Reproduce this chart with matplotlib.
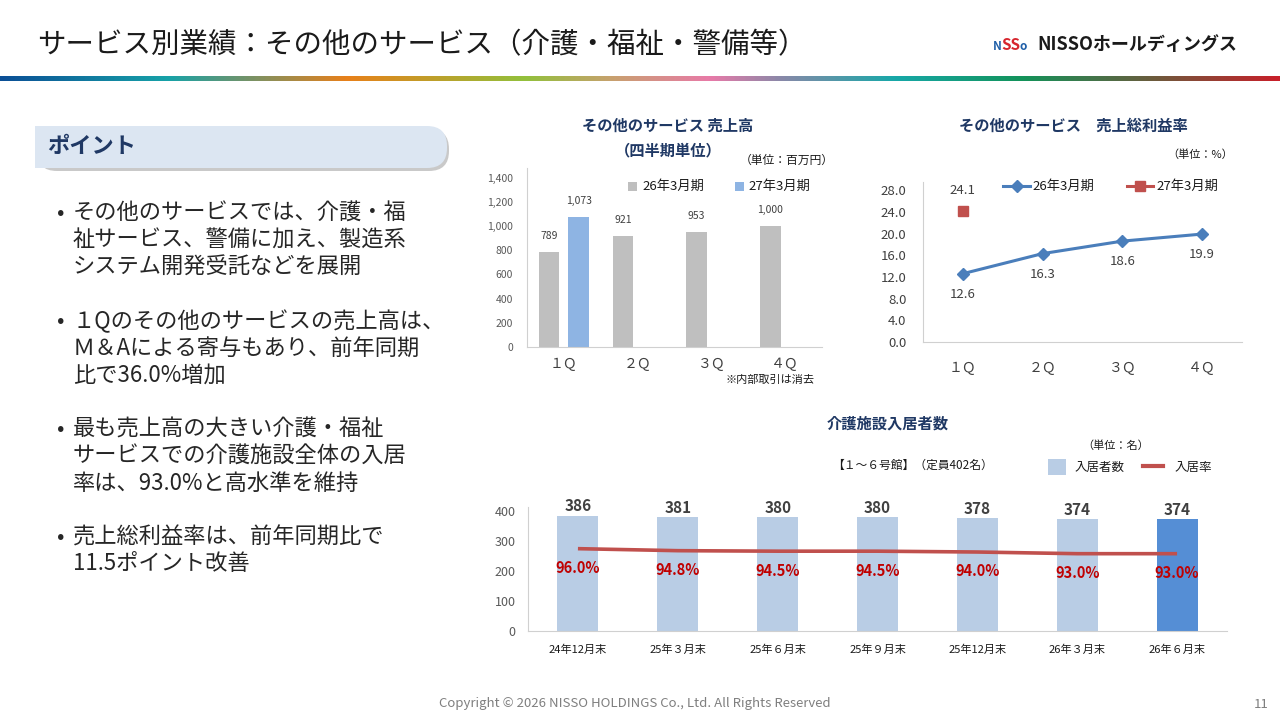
import matplotlib
matplotlib.use("Agg")
import matplotlib.pyplot as plt
import numpy as np
from matplotlib.patches import FancyBboxPatch, Rectangle
from matplotlib.colors import LinearSegmentedColormap
from matplotlib.ticker import FuncFormatter

plt.rcParams['font.family'] = ['Noto Sans CJK JP', 'DejaVu Sans']

W, H = 1280, 720

# --- data ---
quarters = ['１Ｑ', '２Ｑ', '３Ｑ', '４Ｑ']
sales_fy26 = [789, 921, 953, 1000]
sales_fy27 = [1073]
margin_fy26 = [12.6, 16.3, 18.6, 19.9]
margin_fy27 = [24.1]
periods = ['24年12月末', '25年３月末', '25年６月末', '25年９月末',
           '25年12月末', '26年３月末', '26年６月末']
residents = [386, 381, 380, 380, 378, 374, 374]
occupancy = [96.0, 94.8, 94.5, 94.5, 94.0, 93.0, 93.0]

bullets = [
    ['その他のサービスでは、介護・福', '祉サービス、警備に加え、製造系', 'システム開発受託などを展開'],
    ['１Qのその他のサービスの売上高は、', 'Ｍ＆Aによる寄与もあり、前年同期', '比で36.0%増加'],
    ['最も売上高の大きい介護・福祉', 'サービスでの介護施設全体の入居', '率は、93.0%と高水準を維持'],
    ['売上総利益率は、前年同期比で', '11.5ポイント改善'],
]

NAVY = '#1f3864'
GREY_TXT = '#404040'


def box(l, t, r, b):
    return [l / W, 1 - b / H, (r - l) / W, (b - t) / H]


def style_axes(ax):
    for s in ['top', 'right']:
        ax.spines[s].set_visible(False)
    for s in ['left', 'bottom']:
        ax.spines[s].set_color('#d0d0d0')
    ax.tick_params(length=0)
    ax.set_facecolor('none')


fig = plt.figure(figsize=(12.8, 7.2), dpi=100)

# background layer in pixel coordinates
bg = fig.add_axes([0, 0, 1, 1])
bg.set_xlim(0, W)
bg.set_ylim(H, 0)
bg.axis('off')

bg.text(37, 45, 'サービス別業績：その他のサービス（介護・福祉・警備等）', fontsize=20.5,
        color='#1a1a1a', va='center', ha='left')

# logo
bg.text(993, 47, 'N', fontsize=8.5, color='#1f5fa8', fontweight='bold', va='center')
bg.text(1001, 45, 'SS', fontsize=11, color='#d7262e', fontweight='bold', va='center')
bg.text(1020, 47, 'o', fontsize=8.5, color='#1f5fa8', fontweight='bold', va='center')
bg.text(1037, 45, 'NISSOホールディングス', fontsize=13, color='#1a1a1a', fontweight='bold', va='center')

# gradient rule
stops = [(0.0, '#0b4f96'), (0.13, '#17a2a8'), (0.27, '#e8801a'), (0.41, '#92c03c'),
         (0.48, '#c9a070'), (0.555, '#e87aa8'), (0.61, '#8a88a8'), (0.70, '#17a8a8'),
         (0.80, '#13935a'), (0.905, '#6e5a3c'), (1.0, '#c8202a')]
cmap = LinearSegmentedColormap.from_list('rule', stops)
bg.imshow(np.linspace(0, 1, 512)[None, :], extent=(0, W, 81, 76), aspect='auto', cmap=cmap)
bg.set_xlim(0, W)
bg.set_ylim(H, 0)

# "ポイント" header box
shadow = FancyBboxPatch((37, 129), 412, 42, boxstyle='round,pad=0,rounding_size=20',
                        fc='#a6a6a6', ec='none', alpha=0.6)
bg.add_patch(shadow)
head = FancyBboxPatch((35, 126), 412, 42, boxstyle='round,pad=0,rounding_size=20',
                      fc='#dce6f2', ec='none')
bg.add_patch(head)
bg.add_patch(Rectangle((35, 126), 40, 42, fc='#dce6f2', ec='none'))
bg.text(47, 146, 'ポイント', fontsize=16, fontweight='bold', color=NAVY, va='center')

# bullet text
y = 213
for group in bullets:
    bg.text(57, y, '•', fontsize=16, color='#262626', va='center')
    for line in group:
        bg.text(73, y, line, fontsize=16, color='#262626', va='center')
        y += 27
    y += 27 if len(group) == 3 else 0

# footer
bg.text(635, 703, 'Copyright © 2026 NISSO HOLDINGS Co., Ltd. All Rights Reserved',
        fontsize=9.5, color='#7f7f7f', ha='center', va='center')
bg.text(1261, 704, '11', fontsize=9.5, color='#7f7f7f', ha='center', va='center')

# --- chart 1: sales ---
ax1 = fig.add_axes(box(527, 168, 822, 347))
style_axes(ax1)
x = np.arange(len(quarters))
b26 = ax1.bar(x - 0.2, sales_fy26, 0.28, color='#bfbfbf')
b27 = ax1.bar(x[:len(sales_fy27)] + 0.2, sales_fy27, 0.28, color='#8eb4e3')
for bars in (b26, b27):
    for r in bars:
        ax1.annotate(f'{int(r.get_height()):,}', (r.get_x() + r.get_width() / 2, r.get_height()),
                     xytext=(0, 11.5), textcoords='offset points', ha='center', va='center',
                     fontsize=7.5, color=GREY_TXT)
ax1.set_xlim(-0.5, 3.5)
ax1.set_ylim(0, 1480)
ax1.set_yticks(np.arange(0, 1401, 200))
ax1.yaxis.set_major_formatter(FuncFormatter(lambda v, p: f'{int(v):,}'))
ax1.tick_params(axis='y', labelsize=7.5, labelcolor='#595959', pad=10)
ax1.set_xticks(x)
ax1.set_xticklabels(quarters, fontsize=10, color=GREY_TXT)
ax1.tick_params(axis='x', pad=7)

bg.text(668, 126, 'その他のサービス 売上高', fontsize=11, fontweight='bold', color=NAVY, ha='center', va='center')
bg.text(668, 150, '（四半期単位）', fontsize=11, fontweight='bold', color=NAVY, ha='center', va='center')
bg.text(787, 160, '（単位：百万円）', fontsize=8.5, color='#1a1a1a', ha='center', va='center')
bg.text(770, 380, '※内部取引は消去', fontsize=8, color='#1a1a1a', ha='center', va='center')
bg.add_patch(Rectangle((628, 182), 9, 9, fc='#bfbfbf', ec='none'))
bg.text(642, 186.5, '26年3月期', fontsize=9.5, color='#1a1a1a', va='center')
bg.add_patch(Rectangle((735, 182), 9, 9, fc='#8eb4e3', ec='none'))
bg.text(748, 186.5, '27年3月期', fontsize=9.5, color='#1a1a1a', va='center')

# --- chart 2: gross margin ---
ax2 = fig.add_axes(box(923, 182, 1242, 342))
style_axes(ax2)
ax2.plot(x, margin_fy26, color='#4a7ebb', lw=2.2, marker='D', ms=6)
ax2.plot(x[:len(margin_fy27)], margin_fy27, linestyle='none', marker='s', ms=7, color='#c0504d')
for i, v in enumerate(margin_fy26):
    ax2.annotate(f'{v:.1f}', (i, v), xytext=(0, -15), textcoords='offset points',
                 ha='center', va='center', fontsize=9.5, color=GREY_TXT)
for i, v in enumerate(margin_fy27):
    ax2.annotate(f'{v:.1f}', (i, v), xytext=(0, 15), textcoords='offset points',
                 ha='center', va='center', fontsize=9.5, color=GREY_TXT)
ax2.set_xlim(-0.5, 3.5)
ax2.set_ylim(0, 29.5)
ax2.set_yticks(np.arange(0, 28.1, 4))
ax2.yaxis.set_major_formatter(FuncFormatter(lambda v, p: f'{v:.1f}'))
ax2.tick_params(axis='y', labelsize=9.5, labelcolor=GREY_TXT, pad=12)
ax2.set_xticks(x)
ax2.set_xticklabels(quarters, fontsize=10, color=GREY_TXT)
ax2.tick_params(axis='x', pad=14)

bg.text(1073, 126, 'その他のサービス　売上総利益率', fontsize=11, fontweight='bold', color=NAVY,
        ha='center', va='center')
bg.text(1200, 155, '（単位：%）', fontsize=8, color='#1a1a1a', ha='center', va='center')
bg.plot([1003, 1030], [186, 186], color='#4a7ebb', lw=2.2)
bg.plot([1016.5], [186], marker='D', ms=6, color='#4a7ebb')
bg.text(1032, 186, '26年3月期', fontsize=9.5, color='#1a1a1a', va='center')
bg.plot([1127, 1153], [186, 186], color='#c0504d', lw=2.2)
bg.plot([1140], [186], marker='s', ms=7, color='#c0504d')
bg.text(1156, 186, '27年3月期', fontsize=9.5, color='#1a1a1a', va='center')

# --- chart 3: care facility residents ---
ax3 = fig.add_axes(box(528, 507, 1227, 631))
style_axes(ax3)
xp = np.arange(len(periods))
colors = ['#b9cde5'] * (len(periods) - 1) + ['#558ed5']
bars3 = ax3.bar(xp, residents, 0.41, color=colors)
for r in bars3:
    ax3.annotate(f'{int(r.get_height())}', (r.get_x() + r.get_width() / 2, r.get_height()),
                 xytext=(0, 1), textcoords='offset points', ha='center', va='bottom',
                 fontsize=11, fontweight='bold', color=GREY_TXT)
ax3.set_xlim(-0.5, 6.5)
ax3.set_ylim(0, 415)
ax3.set_yticks(np.arange(0, 401, 100))
ax3.tick_params(axis='y', labelsize=9, labelcolor='#595959', pad=9)
ax3.set_xticks(xp)
ax3.set_xticklabels(periods, fontsize=8, color='#1a1a1a')
ax3.tick_params(axis='x', pad=10)

ax3b = ax3.twinx()
ax3b.plot(xp, occupancy, color='#c0504d', lw=2.6, solid_capstyle='butt')
for i, v in enumerate(occupancy):
    ax3b.annotate(f'{v:.1f}%', (i, v), xytext=(0, -14), textcoords='offset points',
                  ha='center', va='center', fontsize=10.5, fontweight='bold', color='#c00000')
ax3b.set_ylim(46.8, 120.9)
ax3b.axis('off')

bg.text(888, 424, '介護施設入居者数', fontsize=11, fontweight='bold', color=NAVY, ha='center', va='center')
bg.text(1116, 446, '（単位：名）', fontsize=8, color='#1a1a1a', ha='center', va='center')
bg.text(913, 465, '【１～６号館】（定員402名）', fontsize=8.5, color='#1a1a1a', ha='center', va='center')
bg.add_patch(Rectangle((1048, 459), 18, 16, fc='#b9cde5', ec='none'))
bg.text(1075, 467, '入居者数', fontsize=9, color='#1a1a1a', va='center')
bg.plot([1143, 1163], [466, 466], color='#c0504d', lw=3)
bg.text(1175, 467, '入居率', fontsize=9, color='#1a1a1a', va='center')

fig.savefig('out.png', dpi=100)
